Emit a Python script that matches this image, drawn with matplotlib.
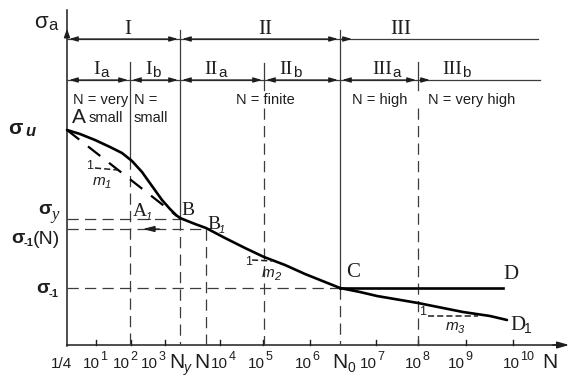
import matplotlib
matplotlib.use("Agg")
import matplotlib.pyplot as plt

SANS = ['Liberation Sans', 'DejaVu Sans']
SERIF = ['Liberation Serif', 'DejaVu Serif']

# ---------------- data (schematic coordinates: x = position along log N, y = stress level, downwards) -----
tick_pos = [96, 131, 165, 220, 263, 310, 376, 418, 466, 513]
tick_exp = ['1', '2', '3', '4', '5', '6', '7', '8', '9', '10']
tick_label_right = [100, 130, 158, 228, 265, 312, 377, 422, 465, 520]
special_labels = [('1/4', 61, ''), ('N', 177, 'y'), ('N', 202, ''), ('N', 340, '0')]

curve_AB_x = [67, 80, 95, 110, 122, 132, 142, 152, 162, 170, 176, 180]
curve_AB_y = [130, 134, 140, 147, 153, 161, 172, 186, 200, 209, 215, 218]
curve_BC_x = [180, 195, 206, 225, 245, 264, 285, 305, 325, 340]
curve_BC_y = [218, 224, 228, 238, 248, 257, 265, 274, 282, 288]
curve_CD1_x = [340, 360, 377, 418, 463, 490, 507]
curve_CD1_y = [288, 292, 296, 303, 312, 316, 320]
line_CD_x = [340, 503]
line_CD_y = [288, 288]

sigma_u, sigma_y, sigma_m1N, sigma_m1 = 130, 219, 229, 288
N_y, N_at, N_0 = 180, 206, 340

regions_top = [(67, 180, 'I', 128), (180, 340, 'II', 265), (340, 538, 'III', 401)]
regions_sub = [(67, 130, 'I', 'a', 100), (130, 180, 'I', 'b', 152), (180, 264, 'II', 'a', 218),
               (264, 340, 'II', 'b', 293), (340, 418, 'III', 'a', 392), (418, 540, 'III', 'b', 462)]

# ---------------- figure ---------------------------------------------------------------
fig = plt.figure(figsize=(5.72, 3.77), dpi=100)
ax = fig.add_axes([0, 0, 1, 1])
ax.set_xlim(0, 572)
ax.set_ylim(377, 0)
ax.axis('off')

K = '#1e1e1e'
G = '#3c3c3c'
DASH = (0, (9, 5))
lw_thin = 0.9

def txt(x, y, s, fs, fam=SANS, ha='left', **kw):
    ax.text(x, y, s, family=fam, fontsize=fs, ha=ha, va='baseline', color=K, **kw)

# axes
ax.plot([67, 67], [346, 10], color=K, lw=1.1)
ax.annotate('', xy=(67, 26), xytext=(67, 40),
            arrowprops=dict(arrowstyle='-|>,head_length=0.5,head_width=0.18', color=K, lw=1.0))
ax.plot([67, 560], [345, 345], color=K, lw=1.1)
ax.annotate('', xy=(572, 345), xytext=(550, 345),
            arrowprops=dict(arrowstyle='-|>,head_length=0.7,head_width=0.2', color=K, lw=1.1))

for p in tick_pos:
    ax.plot([p, p], [345, 340], color=K, lw=1.0)

# vertical lines: solid top part, dashed lower part
ax.plot([N_y, N_y], [30, sigma_y], color=G, lw=lw_thin)
ax.plot([N_y, N_y], [sigma_y, 345], color=G, lw=lw_thin, ls=DASH)
ax.plot([N_0, N_0], [30, sigma_m1], color=G, lw=lw_thin)
ax.plot([N_0, N_0], [sigma_m1, 345], color=G, lw=lw_thin, ls=DASH)
ax.plot([130, 130], [62, 158], color=G, lw=lw_thin)
ax.plot([130, 130], [158, 345], color=G, lw=lw_thin, ls=DASH)
ax.plot([264, 264], [63, 90], color=G, lw=lw_thin)
ax.plot([264, 264], [108, 345], color=G, lw=lw_thin, ls=DASH)
ax.plot([418, 418], [62, 90], color=G, lw=lw_thin)
ax.plot([418, 418], [108, 345], color=G, lw=lw_thin, ls=DASH)
ax.plot([N_at, N_at], [sigma_m1N, 345], color=G, lw=lw_thin, ls=DASH)

# horizontal dashed stress lines
ax.plot([67, N_y], [sigma_y] * 2, color=G, lw=lw_thin, ls=DASH)
ax.plot([67, N_at], [sigma_m1N] * 2, color=G, lw=lw_thin, ls=DASH)
ax.plot([67, N_0], [sigma_m1] * 2, color=G, lw=lw_thin, ls=DASH)
ax.annotate('', xy=(140, sigma_m1N), xytext=(162, sigma_m1N),
            arrowprops=dict(arrowstyle='-|>,head_length=0.7,head_width=0.18', color=K, lw=0.9))

# region bars
ax.plot([67, 538], [39, 39], color=G, lw=lw_thin)
ax.plot([67, 540], [80, 80], color=G, lw=lw_thin)
arr = dict(arrowstyle='<|-|>,head_length=0.5,head_width=0.15', color=K, lw=0.9,
           shrinkA=1.5, shrinkB=1.5)
arr_l = dict(arrowstyle='<|-,head_length=0.5,head_width=0.15', color=K, lw=0.9,
             shrinkA=1.5, shrinkB=1.5)
for i, (x0, x1, lab, cx) in enumerate(regions_top):
    if i < len(regions_top) - 1:
        ax.annotate('', xy=(x0, 39), xytext=(x1, 39), arrowprops=arr)
    else:
        ax.annotate('', xy=(x0, 39), xytext=(x0 + 14, 39), arrowprops=arr_l)
    txt(cx, 34, lab, 15, fam=SERIF, ha='center')
for i, (x0, x1, lab, sub, xr) in enumerate(regions_sub):
    if i < len(regions_sub) - 1:
        ax.annotate('', xy=(x0, 80), xytext=(x1, 80), arrowprops=arr)
    else:
        ax.annotate('', xy=(x0, 80), xytext=(x0 + 14, 80), arrowprops=arr_l)
    txt(xr, 74, lab, 14, fam=SERIF, ha='right')
    txt(xr + 0.5, 77, sub, 11)

# N = ... descriptions
txt(73, 104, 'N = very', 10.5)
txt(89, 122, 'small', 10.5)
txt(134, 104, 'N =', 10.5)
txt(134, 122, 'small', 10.5)
txt(236, 104, 'N = finite', 10.5)
txt(352, 104, 'N = high', 10.5)
txt(428, 104, 'N = very high', 10.5)

# curves
ax.plot(curve_AB_x, curve_AB_y, color='black', lw=1.9, solid_capstyle='round')
ax.plot(curve_BC_x, curve_BC_y, color='black', lw=1.9, solid_capstyle='round')
ax.plot(curve_CD1_x, curve_CD1_y, color='black', lw=1.9, solid_capstyle='round')
ax.plot(line_CD_x, line_CD_y, color='black', lw=1.9)
# secant A-B (dashed)
ax.plot([curve_AB_x[0], curve_AB_x[-1] - 3], [curve_AB_y[0], curve_AB_y[-1] - 2],
        color='black', lw=1.6, ls=(0, (7, 5)))

# slope triangles
ax.plot([95, 118], [168, 170], color=K, lw=1.1, ls=(0, (4, 2)))
ax.plot([252, 272], [260, 261], color=K, lw=1.1, ls=(0, (4, 2)))
ax.plot([428, 478], [316, 316], color=K, lw=1.1, ls=(0, (4, 2)))
for (x, y, s) in [(90, 169, '1'), (249, 265, '1'), (423, 315, '1')]:
    txt(x, y, s, 9, ha='center')
for (x, y, s) in [(93, 185, '1'), (262, 277, '2'), (446, 330, '3')]:
    txt(x, y, 'm', 11, style='italic')
    txt(x + 12, y + 3, s, 8, style='italic')

# point labels
txt(72, 123, 'A', 15)
txt(133, 216, 'A', 14, fam=SERIF)
txt(146, 220, '1', 8, style='italic')
txt(181, 215, 'B', 14, fam=SERIF)
txt(207, 229, 'B', 14, fam=SERIF)
txt(219, 233, '1', 8, style='italic')
txt(346, 277, 'C', 15, fam=SERIF)
txt(503, 279, 'D', 15, fam=SERIF)
txt(510, 330, 'D', 15, fam=SERIF)
txt(524, 333, '1', 10)

# stress labels
txt(34, 28, 'σ', 16)
txt(48, 30, 'a', 12)
txt(8, 134, 'σ', 15, fontweight='bold')
txt(25, 136, 'u', 12, style='italic', fontweight='bold')
txt(38, 214, 'σ', 14, fontweight='bold')
txt(51, 219, 'y', 12, fam=SERIF, style='italic')
txt(11, 243, 'σ', 14, fontweight='bold')
txt(24, 246, '-1', 8, fontweight='bold')
txt(33, 244, '(N)', 14)
txt(36, 293, 'σ', 14, fontweight='bold')
txt(49, 297, '-1', 8, fontweight='bold')

# x tick labels
for xr, e in zip(tick_label_right, tick_exp):
    txt(xr, 368, '10', 11, ha='right')
    txt(xr + 0.5, 360, e, 9)
for s, xc, sub in special_labels:
    if s == 'N':
        txt(xc, 368, s, 15, ha='center')
        if sub:
            txt(xc + 7, 372, sub, 10, style='italic' if sub == 'y' else 'normal')
    else:
        txt(xc, 368, s, 11, ha='center')
txt(550, 368, 'N', 15, ha='center')

fig.savefig('out.png', dpi=100, facecolor='white')
